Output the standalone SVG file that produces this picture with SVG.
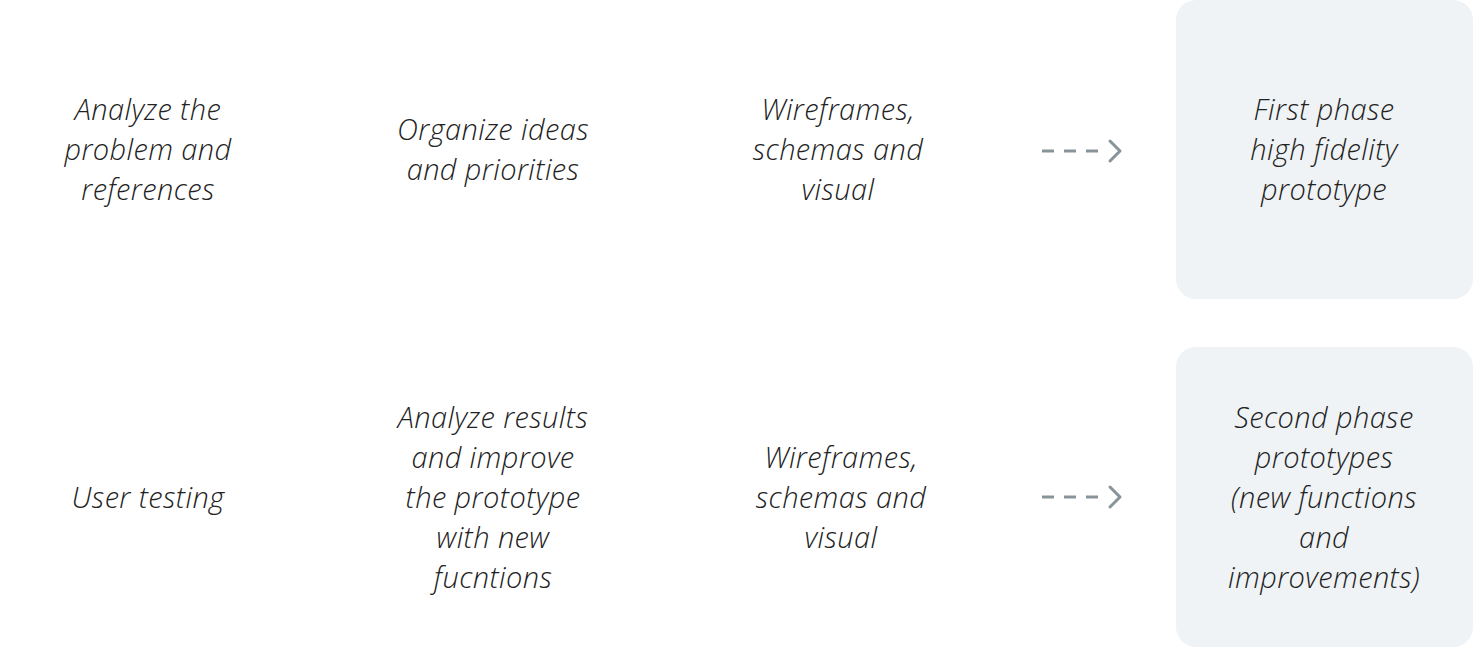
<svg xmlns="http://www.w3.org/2000/svg" width="1473" height="649" viewBox="0 0 1473 649">
  <style>
    .lbl { font-family: "Open Sans", "Liberation Sans", sans-serif; font-style: italic; font-weight: 300; font-size: 29px; letter-spacing: 0.4px; fill: #222222; text-anchor: middle; }
    .box { fill: #eff3f5; }
    .dash { stroke: #88949a; stroke-width: 3; stroke-dasharray: 12 10; fill: none; }
    .head { stroke: #88949a; stroke-width: 3; fill: none; stroke-linecap: round; stroke-linejoin: round; }
  </style>
  <rect width="1473" height="649" fill="#ffffff"/>

  <!-- row 1 -->
  <g id="analyze-problem">
    <text class="lbl" x="148" y="120">Analyze the</text>
    <text class="lbl" x="148" y="160">problem and</text>
    <text class="lbl" x="148" y="200">references</text>
  </g>
  <g id="organize-ideas">
    <text class="lbl" x="493" y="140">Organize ideas</text>
    <text class="lbl" x="493" y="180">and priorities</text>
  </g>
  <g id="wireframes-1">
    <text class="lbl" x="838" y="120">Wireframes,</text>
    <text class="lbl" x="838" y="160">schemas and</text>
    <text class="lbl" x="838" y="200">visual</text>
  </g>
  <g id="first-phase">
    <rect class="box" x="1176" y="0" width="297" height="299" rx="20"/>
    <text class="lbl" x="1324" y="120">First phase</text>
    <text class="lbl" x="1324" y="160">high fidelity</text>
    <text class="lbl" x="1324" y="200">prototype</text>
  </g>

  <!-- row 2 -->
  <g id="user-testing">
    <text class="lbl" x="148" y="508">User testing</text>
  </g>
  <g id="analyze-results">
    <text class="lbl" x="493" y="428">Analyze results</text>
    <text class="lbl" x="493" y="468">and improve</text>
    <text class="lbl" x="493" y="508">the prototype</text>
    <text class="lbl" x="493" y="548">with new</text>
    <text class="lbl" x="493" y="588">fucntions</text>
  </g>
  <g id="wireframes-2">
    <text class="lbl" x="841" y="468">Wireframes,</text>
    <text class="lbl" x="841" y="508">schemas and</text>
    <text class="lbl" x="841" y="548">visual</text>
  </g>
  <g id="second-phase">
    <rect class="box" x="1176" y="347" width="297" height="300" rx="20"/>
    <text class="lbl" x="1324" y="428">Second phase</text>
    <text class="lbl" x="1324" y="468">prototypes</text>
    <text class="lbl" x="1324" y="508">(new functions</text>
    <text class="lbl" x="1324" y="548">and</text>
    <text class="lbl" x="1324" y="588">improvements)</text>
  </g>

  <!-- connectors -->
  <g id="connectors">
    <path class="dash" d="M1042 151 H1098"/>
    <path class="head" d="M1110 141 L1120 151 L1110 161"/>
    <path class="dash" d="M1042 497 H1098"/>
    <path class="head" d="M1110 487 L1120 497 L1110 507"/>
  </g>
</svg>
